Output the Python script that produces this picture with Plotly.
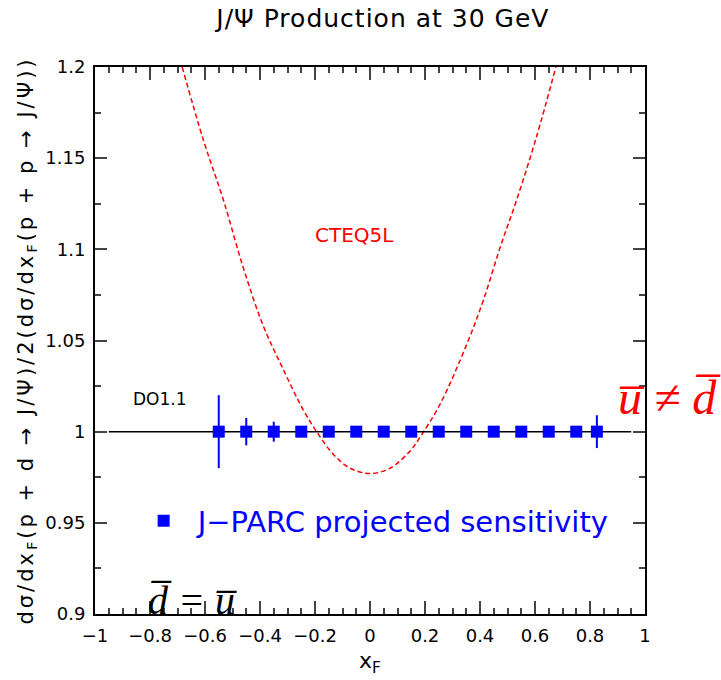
import plotly.graph_objects as go

# J-PARC projected points (ratio = 1 with projected errors)
jparc_x = [-0.55, -0.45, -0.35, -0.25, -0.15, -0.05, 0.05, 0.15, 0.25, 0.35, 0.45, 0.55, 0.65, 0.75, 0.825]
jparc_y = [1.0] * 15
jparc_err = [0.020, 0.0075, 0.0055, 0.003, 0.0025, 0.002, 0.002, 0.002, 0.002, 0.002, 0.0025, 0.0025, 0.003, 0.003, 0.009]

# CTEQ5L prediction
cteq_x = [-0.683, -0.606, -0.533, -0.461, -0.388, -0.315, -0.243, -0.194, -0.133, -0.073, 0.0,
          0.073, 0.145, 0.182, 0.2545, 0.352, 0.412, 0.473, 0.533, 0.606, 0.676]
cteq_y = [1.200, 1.160, 1.127, 1.090, 1.058, 1.034, 1.012, 1.000, 0.9875, 0.980, 0.977,
          0.980, 0.9893, 0.997, 1.015, 1.048, 1.072, 1.101, 1.127, 1.162, 1.200]

# DO1.1 prediction (ratio = 1)
do11_x = [-0.95, 0.95]
do11_y = [1.0, 1.0]

x_ticks = [-1, -0.8, -0.6, -0.4, -0.2, 0, 0.2, 0.4, 0.6, 0.8, 1]
y_ticks = [0.9, 0.95, 1.0, 1.05, 1.1, 1.15, 1.2]

FONT = "DejaVu Sans"
SERIF = "Liberation Serif"

fig = go.Figure()
fig.add_trace(go.Scatter(x=cteq_x, y=cteq_y, mode="lines",
                         line=dict(color="#ff0000", dash="5px,3px", width=1.5, shape="spline", smoothing=1.0),
                         showlegend=False, hoverinfo="skip"))
fig.add_trace(go.Scatter(x=do11_x, y=do11_y, mode="lines",
                         line=dict(color="black", width=1.5),
                         showlegend=False, hoverinfo="skip"))
fig.add_trace(go.Scatter(x=jparc_x, y=jparc_y, mode="markers",
                         marker=dict(symbol="square", size=12, color="#0000ff"),
                         error_y=dict(type="data", array=jparc_err, color="#0000ff",
                                      thickness=2, width=0),
                         name="J\u2212PARC projected sensitivity", showlegend=True))

axis_common = dict(showline=True, linecolor="black", linewidth=2, mirror="ticks",
                   ticks="inside", tickcolor="#444", showgrid=False, zeroline=False,
                   ticklabelstandoff=4,
                   tickfont=dict(family=FONT, size=18, color="black"))

ylabel = ("<span style='letter-spacing:3px'>d\u03c3/dx<sub>F</sub>(p + d \u2192 J/\u03a8)/"
          "2(d\u03c3/dx<sub>F</sub>(p + p \u2192 J/\u03a8))</span>")

fig.update_xaxes(range=[-1, 1], tickvals=x_ticks, ticklen=13, tickwidth=1.5,
                 minor=dict(dtick=0.05, ticklen=6, ticks="inside", tickcolor="#444", showgrid=False),
                 title=dict(text="x<sub>F</sub>", font=dict(family=FONT, size=22, color="black"), standoff=8),
                 **axis_common)
fig.update_yaxes(range=[0.9, 1.2], tickvals=y_ticks, ticklen=12, tickwidth=1.5,
                 minor=dict(dtick=0.025, ticklen=6, ticks="inside", tickcolor="#444", showgrid=False),
                 title=dict(text=ylabel, font=dict(family=FONT, size=21, color="black"), standoff=6),
                 **axis_common)

annotations = [
    dict(x=-0.055, y=1.108, xref="x", yref="y", text="CTEQ5L", showarrow=False,
         font=dict(family=FONT, size=20, color="#ff0000")),
    dict(x=-0.764, y=1.018, xref="x", yref="y", text="DO1.1", showarrow=False,
         font=dict(family=FONT, size=17, color="black")),
    dict(x=1.045, y=0.395, xref="paper", yref="paper", xanchor="center", yanchor="middle",
         text="<i>u\u0305 \u2260 d\u0305</i>", showarrow=False,
         font=dict(family=SERIF, size=48, color="#ff0000")),
    dict(x=-0.644, y=0.9076, xref="x", yref="y", text="<i>d\u0305 = u\u0305</i>", showarrow=False,
         font=dict(family=SERIF, size=40, color="black")),
]

fig.update_layout(
    width=721, height=680,
    margin=dict(l=95, r=76, t=67, b=66),
    paper_bgcolor="white", plot_bgcolor="white",
    title=dict(text="<span style='letter-spacing:1px'>J/\u03a8 Production at 30 GeV</span>",
               x=0.531, xanchor="center", y=0.973, yanchor="middle",
               font=dict(family=FONT, size=25, color="black")),
    legend=dict(x=0.063, y=0.17, xanchor="left", yanchor="middle", bgcolor="rgba(0,0,0,0)",
                itemwidth=58,
                font=dict(family=FONT, size=29, color="#0000ff")),
    annotations=annotations,
)

fig.write_html("out.html")
